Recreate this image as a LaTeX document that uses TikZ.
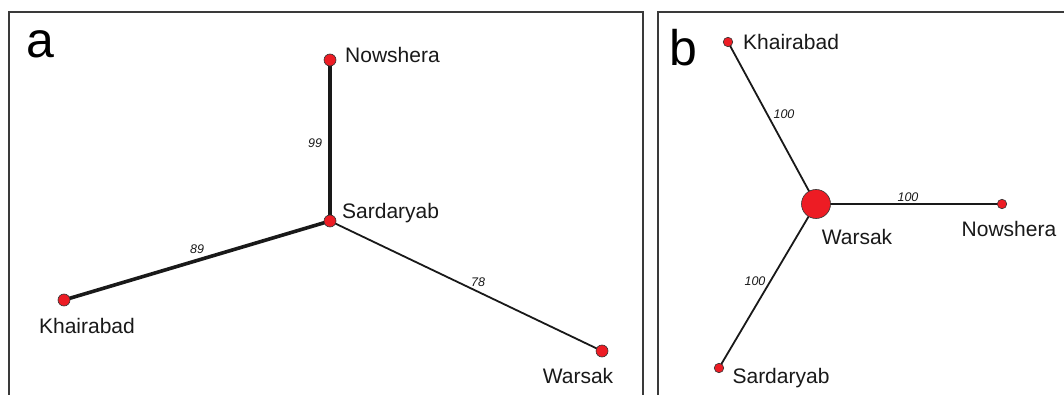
\documentclass[tikz,border=0pt]{standalone}
\usepackage{fontspec}
\setmainfont{Liberation Sans}
\definecolor{dotred}{HTML}{ED1C24}
\definecolor{framegray}{HTML}{3A3A3A}
\begin{document}
\begin{tikzpicture}[x=1pt,y=-1pt,
  dot/.style={circle,draw=black!80,line width=0.6pt,fill=dotred,inner sep=0pt,minimum size=12pt},
  smalldot/.style={dot,minimum size=9.5pt},
  bigdot/.style={dot,minimum size=29pt},
  lbl/.style={font=\fontsize{21}{23}\selectfont,inner sep=0pt,text=black!90},
  elbl/.style={font=\fontsize{12.5}{13}\selectfont\itshape,inner sep=0pt,text=black!90},
  panel/.style={font=\fontsize{50}{52}\selectfont,inner sep=0pt},
  thick edge/.style={line width=3.6pt,black!90},
  thin edge/.style={line width=1.8pt,black!90},
  frame/.style={draw=framegray,line width=1.2pt}]
\useasboundingbox (0,0) rectangle (1064,395);
\fill[white] (0,0) rectangle (1064,395);
% frames
\draw[frame] (9,400) -- (9,12) -- (643,12) -- (643,400);
\draw[frame] (658,400) -- (658,12) -- (1070,12);
% panel labels
\node[panel] (pa) at (40,44) {a};
\node[panel] (pb) at (683,48) {b};
% panel a
\coordinate (aN) at (330,60);
\coordinate (aS) at (330,221);
\coordinate (aK) at (64,300);
\coordinate (aW) at (602,351);
\draw[thick edge] (aN) -- (aS);
\draw[thick edge] (aS) -- (aK);
\draw[thin edge] (aS) -- (aW);
\node[elbl] (e99) at (315,143) {99};
\node[elbl] (e89) at (197,249) {89};
\node[elbl] (e78) at (478,282) {78};
\node[dot] (naN) at (aN) {};
\node[dot] (naS) at (aS) {};
\node[dot] (naK) at (aK) {};
\node[dot] (naW) at (aW) {};
\node[lbl,anchor=west] (laN) at (345,55) {Nowshera};
\node[lbl,anchor=west] (laS) at (342,213) {Sardaryab};
\node[lbl] (laK) at (87,326) {Khairabad};
\node[lbl] (laW) at (578,376) {Warsak};
% panel b
\coordinate (bK) at (728,42);
\coordinate (bW) at (816,204);
\coordinate (bN) at (1002,204);
\coordinate (bS) at (719,368);
\draw[thin edge] (bW) -- (bK);
\draw[thin edge] (bW) -- (bN);
\draw[thin edge] (bW) -- (bS);
\node[elbl] (eb1) at (784,114) {100};
\node[elbl] (eb2) at (908,197) {100};
\node[elbl] (eb3) at (755,281) {100};
\node[bigdot] (nbW) at (bW) {};
\node[smalldot] (nbK) at (bK) {};
\node[smalldot] (nbN) at (bN) {};
\node[smalldot] (nbS) at (bS) {};
\node[lbl,anchor=west] (lbK) at (743,42) {Khairabad};
\node[lbl] (lbW) at (857,237) {Warsak};
\node[lbl] (lbN) at (1009,229) {Nowshera};
\node[lbl] (lbS) at (781,378) {Sardaryab};
\end{tikzpicture}
\end{document}
